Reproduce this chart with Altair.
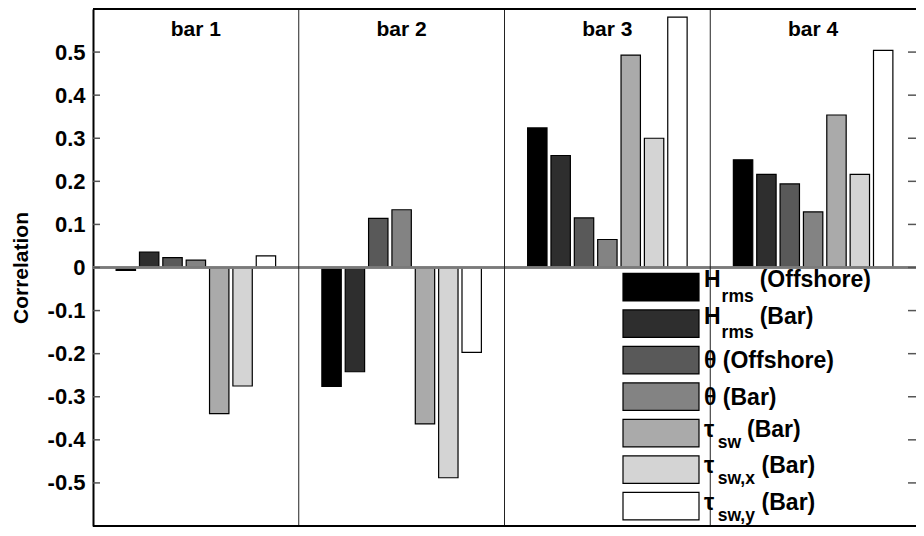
import altair as alt
import pandas as pd

# ---------------- data ----------------
groups = ["bar 1", "bar 2", "bar 3", "bar 4"]
series = ["Hrms (Offshore)", "Hrms (Bar)", "theta (Offshore)", "theta (Bar)",
          "tau_sw (Bar)", "tau_sw,x (Bar)", "tau_sw,y (Bar)"]
hrms_off = [-0.007, -0.276, 0.324, 0.250]
hrms_bar = [0.036, -0.242, 0.260, 0.216]
theta_off = [0.023, 0.114, 0.115, 0.194]
theta_bar = [0.017, 0.134, 0.065, 0.129]
tau_sw = [-0.339, -0.363, 0.493, 0.354]
tau_swx = [-0.275, -0.488, 0.300, 0.216]
tau_swy = [0.027, -0.197, 0.581, 0.504]
colors = ["#000000", "#2e2e2e", "#595959", "#838383", "#aaaaaa", "#d4d4d4", "#ffffff"]
tick_values = [-0.5, -0.4, -0.3, -0.2, -0.1, 0.0, 0.1, 0.2, 0.3, 0.4, 0.5]

# legend label pieces
leg_base = ["H", "H", "θ (Offshore)", "θ (Bar)", "τ", "τ", "τ"]
leg_sub = ["rms", "rms", "", "", "sw", "sw,x", "sw,y"]
leg_rest = ["(Offshore)", "(Bar)", "", "", "(Bar)", "(Bar)", "(Bar)"]
leg_kind = ["H", "H", "theta", "theta", "tau", "tau", "tau"]

# ---------------- tables ----------------
vals = [hrms_off, hrms_bar, theta_off, theta_bar, tau_sw, tau_swx, tau_swy]
rows = []
for s, v in zip(series, vals):
    for g, val in zip(groups, v):
        rows.append({"group": g, "series": s, "value": val})
df = pd.DataFrame(rows)

FONT = "Liberation Sans"
W, H = 823, 517
MAIN_SIZE, SUB_SIZE = 23, 17.5

bold_w = {"H": .722, "θ": .611, "τ": .55, "r": .389, "m": .889, "s": .556,
          "w": .778, ",": .278, "x": .556, "y": .556, " ": .278}


def tw(s, size):
    return sum(bold_w.get(c, .556) for c in s) * size


BASE_X = 611
leg_rows = []
for lab, b, sb, r, k in zip(series, leg_base, leg_sub, leg_rest, leg_kind):
    sub_x = BASE_X + tw(b, MAIN_SIZE) + 1
    rest_x = sub_x + tw(sb, SUB_SIZE) + 6
    leg_rows.append({"label": lab, "base": b, "sub": sb, "rest": r, "kind": k,
                     "sub_x": sub_x, "rest_x": rest_x})
leg_df = pd.DataFrame(leg_rows)

ticks_df = pd.DataFrame({"value": tick_values})
groups_df = pd.DataFrame({"group": groups})

# ---------------- scales / axes ----------------
xscale = alt.Scale(domain=groups, paddingInner=0, paddingOuter=0)
yscale = alt.Scale(domain=[-0.6, 0.6], nice=False, zero=False)
yaxis = alt.Axis(values=tick_values, ticks=False, tickSize=0, grid=False,
                 labelExpr="toString(round(datum.value*10)/10)",
                 labelFont=FONT, labelFontSize=22, labelFontWeight="bold",
                 labelColor="black", labelPadding=8,
                 domainColor="black", domainWidth=2,
                 titleFont=FONT, titleFontSize=21, titleFontWeight="bold",
                 titleColor="black", titlePadding=16)
color_scale = alt.Scale(domain=series, range=colors)


def yenc():
    return alt.Y("value:Q", scale=yscale, axis=yaxis, title="Correlation")


bars = alt.Chart(df).mark_bar(stroke="black", strokeWidth=1.2).encode(
    x=alt.X("group:N", scale=xscale, axis=None, sort=groups),
    xOffset=alt.XOffset("series:N", sort=series,
                        scale=alt.Scale(domain=series, paddingInner=0.17, paddingOuter=0.99)),
    y=yenc(),
    color=alt.Color("series:N", scale=color_scale, legend=None),
)

zero = alt.Chart(groups_df).mark_rule(color="#7a7a7a", strokeWidth=2).encode(
    y=alt.datum(0), x=alt.value(0), x2=alt.value(W))

seps = alt.Chart(groups_df).transform_filter(
    alt.datum.group != "bar 1"
).mark_rule(color="#222222", strokeWidth=1).encode(
    x=alt.X("group:N", scale=xscale, axis=None, bandPosition=0),
    y=alt.value(0), y2=alt.value(H))

titles = alt.Chart(groups_df).mark_text(
    font=FONT, fontSize=21, fontWeight="bold", color="black", baseline="alphabetic"
).encode(x=alt.X("group:N", scale=xscale, axis=None), y=alt.value(27), text="group:N")

lticks = alt.Chart(ticks_df).mark_rule(color="#555555", strokeWidth=1.5).encode(
    y=yenc(), x=alt.value(0), x2=alt.value(7))
rticks = alt.Chart(ticks_df).mark_rule(color="#555555", strokeWidth=1.5).encode(
    y=yenc(), x=alt.value(W - 8), x2=alt.value(W))

top = alt.Chart(groups_df).mark_rule(color="black", strokeWidth=2).encode(
    y=alt.value(0), x=alt.value(0), x2=alt.value(W))
bottom = alt.Chart(groups_df).mark_rule(color="black", strokeWidth=2).encode(
    y=alt.value(H), x=alt.value(0), x2=alt.value(W))

main = alt.layer(bars, zero, seps, titles, lticks, rticks, top, bottom)

# ---------------- legend ----------------
lscale = alt.Scale(domain=series, range=[264.4, 510.9], paddingInner=0.247, paddingOuter=0)


def lyenc():
    return alt.Y("label:N", scale=lscale, axis=None, sort=series)


leg_base_chart = alt.Chart(leg_df)
swatch = leg_base_chart.mark_rect(stroke="black", strokeWidth=1.2).encode(
    y=lyenc(), x=alt.value(530), x2=alt.value(606),
    color=alt.Color("label:N", scale=color_scale, legend=None))


def txt(kind, field, xenc, size, dy):
    return leg_base_chart.transform_filter(alt.datum.kind == kind).mark_text(
        font=FONT, fontSize=size, fontWeight="bold", color="black",
        align="left", baseline="alphabetic", dy=dy
    ).encode(y=lyenc(), x=xenc, text=f"{field}:N")


xbase = alt.value(BASE_X)
xsub = alt.X("sub_x:Q", scale=None)
xrest = alt.X("rest_x:Q", scale=None)

legend = alt.layer(
    swatch,
    txt("H", "base", xbase, MAIN_SIZE, 0),
    txt("H", "sub", xsub, SUB_SIZE, 14.5),
    txt("H", "rest", xrest, MAIN_SIZE, 0),
    txt("theta", "base", xbase, MAIN_SIZE, 8),
    txt("tau", "base", xbase, MAIN_SIZE, 3.5),
    txt("tau", "sub", xsub, SUB_SIZE, 14.5),
    txt("tau", "rest", xrest, MAIN_SIZE, 3.5),
)

chart = alt.layer(main, legend).resolve_scale(
    x="independent", y="independent"
).properties(
    width=W, height=H,
    padding={"left": 85, "top": 1, "right": 0, "bottom": 2},
    autosize=alt.AutoSizeParams(type="none"),
    background="white",
).configure_view(stroke=None)

chart.save("out.html", embed_options={"renderer": "svg", "actions": False})
